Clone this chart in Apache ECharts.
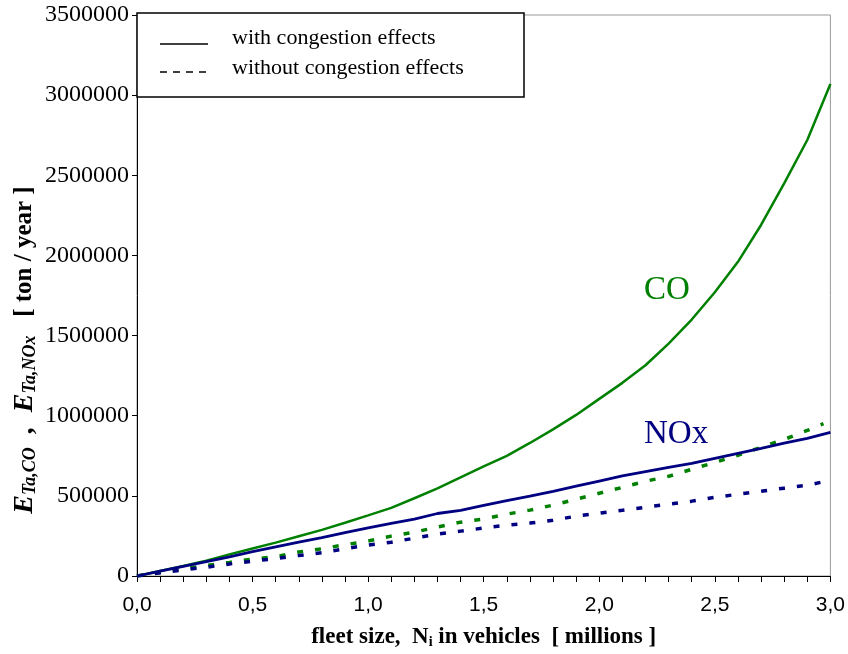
<!DOCTYPE html>
<html>
<head>
<meta charset="utf-8">
<script src="https://cdn.jsdelivr.net/npm/echarts@6/dist/echarts.min.js"></script>
<style>
html,body{margin:0;padding:0;background:#fff;}
#chart{width:848px;height:654px;}
</style>
</head>
<body>
<div id="chart"></div>
<script>
// fleet size (millions)
var xSolid = [0,0.1,0.2,0.3,0.4,0.5,0.6,0.7,0.8,0.9,1.0,1.1,1.2,1.3,1.4,1.5,1.6,1.7,1.8,1.9,2.0,2.1,2.2,2.3,2.4,2.5,2.6,2.7,2.8,2.9,3.0];
var xDashed = [0,0.1,0.2,0.3,0.4,0.5,0.6,0.7,0.8,0.9,1.0,1.1,1.2,1.3,1.4,1.5,1.6,1.7,1.8,1.9,2.0,2.1,2.2,2.3,2.4,2.5,2.6,2.7,2.8,2.9,2.97];
// emissions, thousand ton / year
var coWith = [0,31,62,95,135,172,208,248,288,332,378,425,485,547,616,684,750,830,915,1005,1105,1205,1315,1450,1600,1770,1960,2190,2450,2720,3070];
var noxWith = [0,30,60,90,120,152,182,212,240,270,300,328,355,390,410,440,470,498,528,560,592,624,651,678,703,734,765,796,829,859,896];
var coWithout = [0,22,45,65,85,106,120,150,170,195,218,249,274,305,336,355,386,411,442,479,516,553,591,622,666,709,753,803,852,908,950];
var noxWithout = [0,20,38,55,75,93,108,128,145,170,193,211,236,261,280,299,317,330,348,373,392,410,429,448,467,491,510,529,548,566,588];

var legendLabels = ['with congestion effects', 'without congestion effects'];

function pairs(xs, ys) {
  return xs.map(function (x, i) { return [x, ys[i] * 1000]; });
}

var GREEN = '#008000', NAVY = '#000080';
var serif = '"Liberation Serif", "Times New Roman", serif';

var chart = echarts.init(document.getElementById('chart'));
chart.setOption({
  animation: false,
  backgroundColor: '#fff',
  grid: { left: 137, right: 17, top: 15, bottom: 76, show: true, borderColor: '#999', borderWidth: 1 },
  xAxis: {
    type: 'value', min: 0, max: 3, interval: 0.1,
    axisLine: { lineStyle: { color: '#000', width: 1 } },
    axisTick: { length: 6, lineStyle: { color: '#000' } },
    splitLine: { show: false },
    axisLabel: {
      margin: 19,
      fontFamily: '"Liberation Sans Narrow", "Liberation Sans", sans-serif',
      fontSize: 21, color: '#000',
      formatter: function (v) {
        var k = Math.round(v * 10);
        if (k % 5 !== 0) return '';
        return (k / 10).toFixed(1).replace('.', ',');
      }
    },
    name: '{b|fleet size,  N}{s|i}{b| in vehicles  [ millions ]}',
    nameLocation: 'middle', nameGap: 50,
    nameTextStyle: {
      rich: {
        b: { fontFamily: serif, fontWeight: 'bold', fontSize: 23, color: '#000' },
        s: { fontFamily: serif, fontWeight: 'bold', fontSize: 14, color: '#000', verticalAlign: 'bottom', padding: [9, 0, 0, 0] }
      }
    }
  },
  yAxis: {
    type: 'value', min: 0, max: 3500000, interval: 500000,
    axisLine: { show: true, lineStyle: { color: '#000', width: 1 } },
    axisTick: { show: true, length: 5, lineStyle: { color: '#000' } },
    splitLine: { show: false },
    axisLabel: {
      margin: 8, fontFamily: serif, fontSize: 24, color: '#000',
      formatter: function (v) { return String(v); }
    }
  },
  series: [
    { name: 'CO with', type: 'line', data: pairs(xSolid, coWith), showSymbol: false,
      lineStyle: { color: GREEN, width: 2.5 }, z: 3 },
    { name: 'NOx with', type: 'line', data: pairs(xSolid, noxWith), showSymbol: false,
      lineStyle: { color: NAVY, width: 2.8 }, z: 4 },
    { name: 'CO without', type: 'line', data: pairs(xDashed, coWithout), showSymbol: false,
      lineStyle: { color: GREEN, width: 3.5, type: [6, 12] }, z: 2 },
    { name: 'NOx without', type: 'line', data: pairs(xDashed, noxWithout), showSymbol: false,
      lineStyle: { color: NAVY, width: 3.5, type: [6, 12] }, z: 2 }
  ],
  graphic: [
    // legend box
    { type: 'rect', shape: { x: 137, y: 13, width: 387, height: 84 },
      style: { fill: '#fff', stroke: '#000', lineWidth: 1.5 }, z: 10 },
    { type: 'line', shape: { x1: 160, y1: 44, x2: 208, y2: 44 },
      style: { stroke: '#000', lineWidth: 1.5 }, z: 11 },
    { type: 'line', shape: { x1: 160, y1: 72, x2: 208, y2: 72 },
      style: { stroke: '#000', lineWidth: 1.5, lineDash: [7, 6] }, z: 11 },
    { type: 'text', x: 232, y: 38, z: 11,
      style: { text: legendLabels[0], font: '22px ' + serif, fill: '#000', textVerticalAlign: 'middle' } },
    { type: 'text', x: 232, y: 68, z: 11,
      style: { text: legendLabels[1], font: '22px ' + serif, fill: '#000', textVerticalAlign: 'middle' } },
    // curve labels
    { type: 'text', x: 644, y: 290, z: 11,
      style: { text: 'CO', font: '33px ' + serif, fill: GREEN, textVerticalAlign: 'middle' } },
    { type: 'text', x: 644, y: 434, z: 11,
      style: { text: 'NOx', font: '33px ' + serif, fill: NAVY, textVerticalAlign: 'middle' } },
    // y axis title
    { type: 'text', x: 25, y: 350, rotation: Math.PI / 2, z: 11,
      style: {
        text: '{e|E}{s|Ta,CO}{e|  ,  E}{s|Ta,NOx}{n|   [ ton / year ]}',
        textAlign: 'center', textVerticalAlign: 'middle',
        rich: {
          e: { fontFamily: serif, fontWeight: 'bold', fontStyle: 'italic', fontSize: 28, fill: '#000' },
          s: { fontFamily: serif, fontWeight: 'bold', fontStyle: 'italic', fontSize: 18, fill: '#000', verticalAlign: 'bottom' },
          n: { fontFamily: serif, fontWeight: 'bold', fontSize: 25, fill: '#000' }
        }
      } }
  ]
});
</script>
</body>
</html>
